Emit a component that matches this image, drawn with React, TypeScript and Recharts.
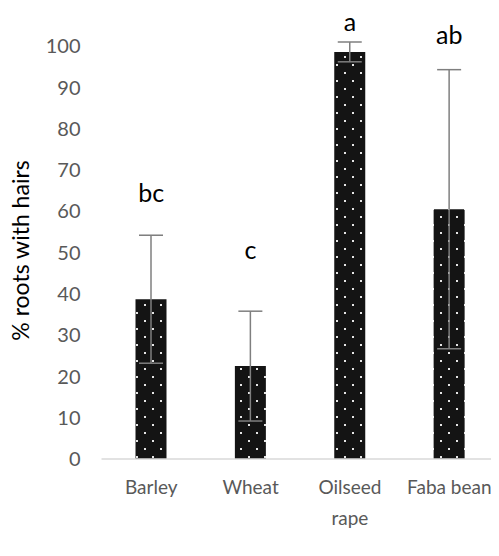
import React from "react";
import { BarChart, Bar, XAxis, YAxis, ErrorBar, ReferenceDot } from "recharts";

const crops = ["Barley", "Wheat", "Oilseed rape", "Faba bean"];
const meanPct = [38.7, 22.5, 98.6, 60.5];
const errPct = [15.5, 13.3, 2.4, 33.8];
const letters = ["bc", "c", "a", "ab"];
const letterPos = [64.4, 50.5, 105.8, 102.6];
const yTicks = [0, 10, 20, 30, 40, 50, 60, 70, 80, 90, 100];

const data = crops.map((name, i) => ({ name, value: meanPct[i], err: errPct[i] }));

const FONT = "Lato, 'Open Sans', sans-serif";
const TICK_SIZE = 20;
const CAT_SIZE = 19;

// wrap a label into lines that fit the category band
function wrapLabel(label: string, maxWidth: number): string[] {
  const ctx = document.createElement("canvas").getContext("2d");
  if (!ctx) return [label];
  ctx.font = `${CAT_SIZE}px Lato`;
  const words = label.split(" ");
  const lines: string[] = [];
  let cur = "";
  for (const w of words) {
    const next = cur ? cur + " " + w : w;
    if (cur && ctx.measureText(next).width > maxWidth) {
      lines.push(cur);
      cur = w;
    } else {
      cur = next;
    }
  }
  if (cur) lines.push(cur);
  return lines;
}

function CropTick({ x, y, payload }: any) {
  const lines = wrapLabel(payload.value, 97);
  return (
    <text x={x} y={y} textAnchor="middle" fill="#595959" fontSize={CAT_SIZE} fontFamily={FONT}>
      {lines.map((l, i) => (
        <tspan key={i} x={x} dy={i === 0 ? "0.71em" : 31}>
          {l}
        </tspan>
      ))}
    </text>
  );
}

export default function App() {
  return (
    <div style={{ fontFamily: FONT }}>
      {/* chart runs to the right edge of the window; keep scrollbars away */}
      <style>{"html, body { overflow: hidden; }"}</style>
      <BarChart
        width={491}
        height={540}
        data={data}
        margin={{ top: 34, right: 0, bottom: 0, left: 0 }}
        style={{ overflow: "visible" }}
      >
        <defs>
          <pattern id="dots" width={16} height={16} patternUnits="userSpaceOnUse">
            <rect width={16} height={16} fill="#141414" />
            <rect x={0} y={0} width={2} height={2} fill="#e6e6e6" />
            <rect x={8} y={8} width={2} height={2} fill="#e6e6e6" />
          </pattern>
        </defs>
        <XAxis
          dataKey="name"
          height={89}
          interval={0}
          tickLine={false}
          tickMargin={16}
          axisLine={{ stroke: "#d9d9d9", strokeWidth: 1.5 }}
          tick={<CropTick />}
        />
        <YAxis
          width={93.5}
          domain={[0, 100]}
          ticks={yTicks}
          interval={0}
          axisLine={false}
          tickLine={false}
          tickMargin={15}
          tick={{ fill: "#595959", fontSize: TICK_SIZE }}
          label={{
            value: "% roots with hairs",
            angle: -90,
            position: "center",
            dx: -34,
            fill: "#000",
            fontSize: 23,
          }}
        />
        <Bar dataKey="value" barSize={31} fill="url(#dots)" isAnimationActive={false}>
          <ErrorBar dataKey="err" width={12} stroke="#7f7f7f" strokeWidth={1.5} direction="y" />
        </Bar>
        {crops.map((c, i) => (
          <ReferenceDot
            key={c}
            x={c}
            y={letterPos[i]}
            r={0}
            fill="none"
            stroke="none"
            ifOverflow="visible"
            label={{ value: letters[i], position: "center", fill: "#000", fontSize: 25 }}
          />
        ))}
      </BarChart>
    </div>
  );
}
